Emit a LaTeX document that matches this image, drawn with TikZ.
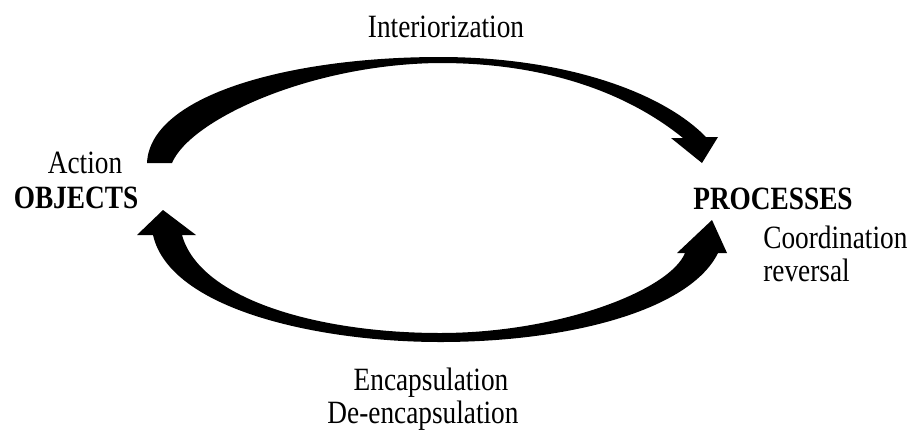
\documentclass[tikz,border=0pt]{standalone}
\usepackage{fontspec}
\setmainfont{Liberation Serif}[FakeStretch=0.84]
\begin{document}
\begin{tikzpicture}[x=0.02cm,y=-0.02cm,
    lbl/.style={anchor=base,inner sep=0pt,font=\fontsize{18.5}{22}\selectfont},
    bigarrow/.style={fill=black}]
      \useasboundingbox (0,0) rectangle (913,434);

      \node[lbl] (interior) at (446,37) {Interiorization};
      \node[lbl] (action) at (85,173) {Action};
      \node[lbl,font=\fontsize{18.5}{22}\selectfont\bfseries] (objects) at (76,208) {OBJECTS};
      \node[lbl,font=\fontsize{18.5}{22}\selectfont\bfseries] (processes) at (773,209) {PROCESSES};
      \node[lbl,anchor=base west] (coord) at (763,248) {Coordination};
      \node[lbl,anchor=base west] (revers) at (763,281) {reversal};
      \node[lbl] (encap) at (431,390) {Encapsulation};
      \node[lbl] (deencap) at (423,423) {De-encapsulation};

      % arrow ends
      \coordinate (objtail) at (160,163);
      \coordinate (proctip) at (702,163);
      \coordinate (objtip) at (163,210);
      \coordinate (proctail) at (712,220);

      % interiorization: objects -> processes
      \fill[bigarrow] (147,163) .. controls (150,95) and (290,57) .. (440,57)
        .. controls (560,57) and (660,90) .. (706,137) -- (718,137) -- (proctip)
        -- (671,138) -- (683,138) .. controls (630,95) and (550,63) .. (440,63)
        .. controls (310,64) and (190,120) .. (172,163) -- cycle;

      % encapsulation / de-encapsulation: both ways
      \fill[bigarrow] (153,235) -- (137,235) -- (objtip) -- (196,235) -- (182,235)
        .. controls (200,300) and (320,333) .. (440,333)
        .. controls (560,333) and (670,290) .. (685,253) -- (677,253) -- (proctail)
        -- (727,253) -- (718,253) .. controls (690,310) and (570,342) .. (440,342)
        .. controls (320,342) and (170,310) .. (153,235) -- cycle;
  \end{tikzpicture}
\end{document}
